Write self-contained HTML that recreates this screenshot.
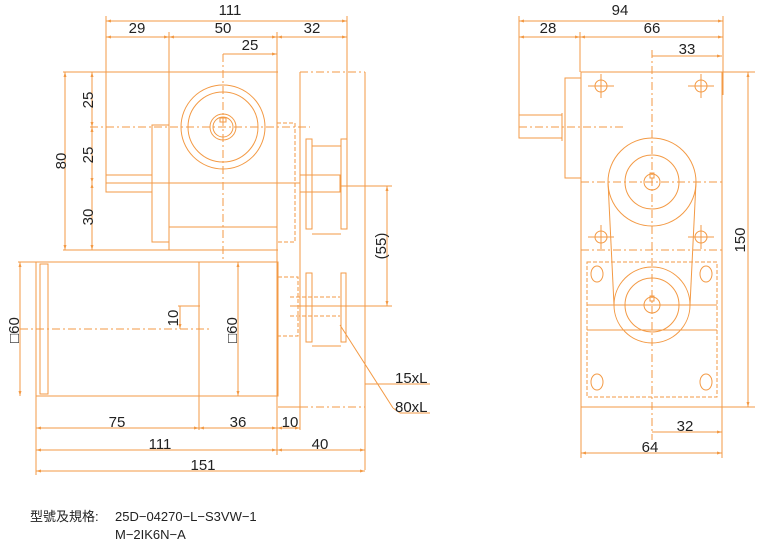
<!DOCTYPE html>
<html><head><meta charset="utf-8"><style>
html,body{margin:0;padding:0;background:#fff;width:783px;height:540px;overflow:hidden}
svg{display:block}
text{font-family:"Liberation Sans",sans-serif;font-size:15px;fill:#222}
.o{stroke:#f39a45;stroke-width:1;fill:none}
.d{stroke:#f39a45;stroke-width:1;fill:none;stroke-dasharray:8 3 2 3}
.h{stroke:#f39a45;stroke-width:1;fill:none;stroke-dasharray:4 2}
</style></head><body>
<svg width="783" height="540" viewBox="0 0 783 540" xmlns="http://www.w3.org/2000/svg">
<defs><marker id="a" viewBox="0 0 10 10" refX="10" refY="5" markerWidth="7" markerHeight="5" orient="auto-start-reverse"><path d="M0,2L10,5L0,8z" fill="#f39a45"/></marker></defs>
<g class="o">
<line x1="106" y1="21" x2="347" y2="21" marker-start="url(#a)" marker-end="url(#a)"/>
<line x1="106" y1="37" x2="169" y2="37" marker-start="url(#a)" marker-end="url(#a)"/>
<line x1="169" y1="37" x2="277" y2="37" marker-start="url(#a)" marker-end="url(#a)"/>
<line x1="277" y1="37" x2="347" y2="37" marker-start="url(#a)" marker-end="url(#a)"/>
<line x1="223" y1="54" x2="277" y2="54" marker-end="url(#a)"/>
<line x1="106" y1="16" x2="106" y2="192"/>
<line x1="169" y1="32" x2="169" y2="250"/>
<line x1="277" y1="32" x2="277" y2="430"/>
<line x1="347" y1="16" x2="347" y2="139"/>
<line x1="63" y1="72" x2="278" y2="72"/>
<line x1="63" y1="250" x2="278" y2="250"/>
<line x1="169" y1="227" x2="277" y2="227"/>
<circle cx="223" cy="127" r="42"/><circle cx="223" cy="127" r="35"/><circle cx="223" cy="127" r="13"/><circle cx="223" cy="127" r="10"/>
<rect x="220" y="118" width="6" height="4"/>
<rect x="152" y="125" width="17" height="117"/>
<rect x="106" y="175" width="46" height="17"/>
<line x1="106" y1="183" x2="300" y2="183"/>
<line x1="300" y1="72" x2="300" y2="430"/>
<line x1="365" y1="72" x2="365" y2="470"/>
<rect x="306" y="139" width="6" height="90"/><rect x="341" y="139" width="6" height="90"/>
<line x1="312" y1="146" x2="341" y2="146"/><line x1="312" y1="234" x2="341" y2="234"/>
<rect x="300" y="175" width="40" height="17"/>
<line x1="65" y1="72" x2="65" y2="250" marker-start="url(#a)" marker-end="url(#a)"/>
<line x1="92" y1="72" x2="92" y2="127" marker-start="url(#a)" marker-end="url(#a)"/>
<line x1="92" y1="127" x2="92" y2="183" marker-start="url(#a)" marker-end="url(#a)"/>
<line x1="92" y1="183" x2="92" y2="250" marker-start="url(#a)" marker-end="url(#a)"/>
<line x1="387" y1="186" x2="387" y2="306" marker-start="url(#a)" marker-end="url(#a)"/>
<line x1="340" y1="186" x2="392" y2="186"/>
<line x1="290" y1="306" x2="392" y2="306"/>
<line x1="18" y1="262" x2="278" y2="262"/>
<rect x="36" y="262" width="242" height="134"/>
<rect x="40" y="264" width="8" height="130"/>
<line x1="199" y1="262" x2="199" y2="430"/>
<line x1="20" y1="262" x2="20" y2="396" marker-start="url(#a)" marker-end="url(#a)"/>
<line x1="238" y1="262" x2="238" y2="396" marker-start="url(#a)" marker-end="url(#a)"/>
<line x1="180" y1="306" x2="180" y2="329" marker-end="url(#a)"/>
<line x1="178" y1="306" x2="200" y2="306"/>
<rect x="306" y="273" width="6" height="69"/><rect x="341" y="273" width="5" height="69"/>
<line x1="312" y1="346" x2="341" y2="346"/>
<line x1="340" y1="325" x2="393" y2="408"/>
<line x1="365" y1="384" x2="430" y2="384"/>
<line x1="393" y1="408" x2="400" y2="413"/><line x1="400" y1="413" x2="430" y2="413"/>
<line x1="278" y1="407" x2="300" y2="407"/>
<line x1="36" y1="396" x2="36" y2="475"/>
<line x1="36" y1="428" x2="199" y2="428" marker-start="url(#a)" marker-end="url(#a)"/>
<line x1="199" y1="428" x2="277" y2="428" marker-start="url(#a)" marker-end="url(#a)"/>
<line x1="277" y1="428" x2="300" y2="428" marker-start="url(#a)" marker-end="url(#a)"/>
<line x1="36" y1="450" x2="277" y2="450" marker-start="url(#a)" marker-end="url(#a)"/>
<line x1="277" y1="450" x2="365" y2="450" marker-start="url(#a)" marker-end="url(#a)"/>
<line x1="36" y1="471" x2="365" y2="471" marker-start="url(#a)" marker-end="url(#a)"/>
<line x1="277" y1="430" x2="277" y2="455"/>
<!-- right view -->
<line x1="519" y1="21" x2="723" y2="21" marker-start="url(#a)" marker-end="url(#a)"/>
<line x1="519" y1="37" x2="580" y2="37" marker-start="url(#a)" marker-end="url(#a)"/>
<line x1="580" y1="37" x2="723" y2="37" marker-start="url(#a)" marker-end="url(#a)"/>
<line x1="652" y1="56" x2="722" y2="56" marker-end="url(#a)"/>
<line x1="519" y1="16" x2="519" y2="138"/>
<line x1="580" y1="32" x2="580" y2="72"/>
<line x1="723" y1="16" x2="723" y2="95"/>
<rect x="581" y="72" width="141" height="335"/>
<line x1="722" y1="72" x2="755" y2="72"/><line x1="722" y1="407" x2="755" y2="407"/>
<line x1="748" y1="72" x2="748" y2="407" marker-start="url(#a)" marker-end="url(#a)"/>
<rect x="565" y="78" width="16" height="100"/>
<rect x="519" y="115" width="43" height="23"/>
<line x1="562" y1="113" x2="562" y2="141"/>
<circle cx="601" cy="86" r="6"/><circle cx="701" cy="86" r="6"/><circle cx="601" cy="237" r="6"/><circle cx="701" cy="237" r="6"/>
<path d="M588 86H614M601 74V98M688 86H714M701 74V98M588 237H614M601 225V249M688 237H714M701 225V249"/>
<ellipse cx="597" cy="274" rx="6" ry="8"/><ellipse cx="706" cy="274" rx="6" ry="8"/><ellipse cx="597" cy="382" rx="6" ry="8"/><ellipse cx="706" cy="382" rx="6" ry="8"/>
<circle cx="652" cy="182" r="44"/><circle cx="652" cy="182" r="27"/><circle cx="652" cy="182" r="8"/>
<rect x="650" y="173" width="4" height="5"/>
<circle cx="652" cy="305" r="38"/><circle cx="652" cy="305" r="27"/><circle cx="652" cy="305" r="8"/>
<rect x="650" y="296" width="4" height="5"/>
<line x1="608" y1="182" x2="614" y2="305"/><line x1="696" y1="182" x2="690" y2="305"/>
<line x1="587" y1="305" x2="717" y2="305"/><line x1="587" y1="330" x2="717" y2="330"/>
<line x1="581" y1="407" x2="581" y2="458"/><line x1="722" y1="407" x2="722" y2="458"/>
<line x1="652" y1="432" x2="722" y2="432" marker-end="url(#a)"/>
<line x1="581" y1="453" x2="722" y2="453" marker-start="url(#a)" marker-end="url(#a)"/>
</g>
<g class="d">
<line x1="90" y1="127" x2="310" y2="127"/>
<line x1="223" y1="54" x2="223" y2="262"/>
<line x1="300" y1="72" x2="365" y2="72"/>
<line x1="20" y1="329" x2="212" y2="329"/>
<line x1="300" y1="407" x2="365" y2="407"/>
<line x1="519" y1="127" x2="625" y2="127"/>
<line x1="652" y1="50" x2="652" y2="440"/>
<line x1="581" y1="182" x2="725" y2="182"/>
<line x1="581" y1="250" x2="722" y2="250"/>
</g>
<g class="h">
<rect x="277" y="123" width="18" height="119"/>
<rect x="278" y="277" width="20" height="59"/>
<line x1="290" y1="297" x2="340" y2="297"/><line x1="290" y1="316" x2="340" y2="316"/>
<rect x="587" y="262" width="130" height="135"/>
</g>
<text x="230" y="15" text-anchor="middle">111</text>
<text x="137" y="33" text-anchor="middle">29</text>
<text x="223" y="33" text-anchor="middle">50</text>
<text x="312" y="33" text-anchor="middle">32</text>
<text x="250" y="50" text-anchor="middle">25</text>
<text transform="translate(66,161) rotate(-90)" text-anchor="middle">80</text>
<text transform="translate(93,100) rotate(-90)" text-anchor="middle">25</text>
<text transform="translate(93,155) rotate(-90)" text-anchor="middle">25</text>
<text transform="translate(93,217) rotate(-90)" text-anchor="middle">30</text>
<text transform="translate(386,246) rotate(-90)" text-anchor="middle">(55)</text>
<text transform="translate(19,330) rotate(-90)" text-anchor="middle">□60</text>
<text transform="translate(237,330) rotate(-90)" text-anchor="middle">□60</text>
<text transform="translate(178,318) rotate(-90)" text-anchor="middle">10</text>
<text x="395" y="383">15xL</text>
<text x="395" y="412">80xL</text>
<text x="117" y="427" text-anchor="middle">75</text>
<text x="238" y="427" text-anchor="middle">36</text>
<text x="290" y="427" text-anchor="middle">10</text>
<text x="160" y="449" text-anchor="middle">111</text>
<text x="320" y="449" text-anchor="middle">40</text>
<text x="203" y="470" text-anchor="middle">151</text>
<text x="620" y="15" text-anchor="middle">94</text>
<text x="548" y="33" text-anchor="middle">28</text>
<text x="652" y="33" text-anchor="middle">66</text>
<text x="687" y="54" text-anchor="middle">33</text>
<text transform="translate(745,240) rotate(-90)" text-anchor="middle">150</text>
<text x="685" y="431" text-anchor="middle">32</text>
<text x="650" y="452" text-anchor="middle">64</text>
<text x="30" y="521" style="font-family:'Liberation Sans','Noto Sans CJK TC',sans-serif;font-size:13px">型號及規格:</text>
<text x="115" y="521" style="font-size:13px">25D−04270−L−S3VW−1</text>
<text x="115" y="539" style="font-size:13px">M−2IK6N−A</text>
</svg>
</body></html>
